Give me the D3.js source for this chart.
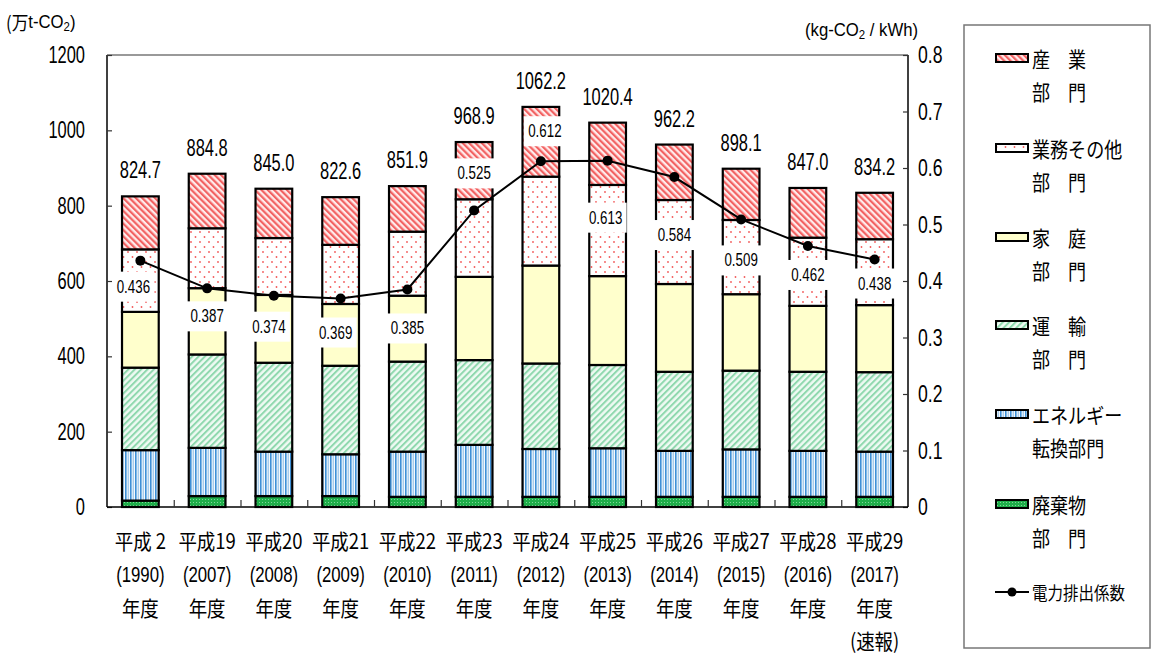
<!DOCTYPE html>
<html>
<head>
<meta charset="utf-8">
<script src="https://cdn.jsdelivr.net/npm/d3@7"></script>
<style>
  body { margin: 0; background: #fff; }
  svg { display: block; }
  text { font-family: "Liberation Sans", "Noto Sans CJK JP", sans-serif; fill: #000; }
  .jp { font-family: "Noto Sans CJK JP", "Liberation Sans", sans-serif; }
</style>
</head>
<body>
<div id="chart"></div>
<script>
// data (万t-CO2, stacked bottom -> top)
var line1 = ["平成 2", "平成19", "平成20", "平成21", "平成22", "平成23", "平成24", "平成25", "平成26", "平成27", "平成28", "平成29"];
var line2 = ["(1990)", "(2007)", "(2008)", "(2009)", "(2010)", "(2011)", "(2012)", "(2013)", "(2014)", "(2015)", "(2016)", "(2017)"];
var line3 = ["年度", "年度", "年度", "年度", "年度", "年度", "年度", "年度", "年度", "年度", "年度", "年度"];
var line4 = ["", "", "", "", "", "", "", "", "", "", "", "(速報)"];

var waste      = [17, 29, 29, 29, 27, 27, 27, 27, 27, 27, 27, 27];
var energy     = [134, 128, 118, 111, 120, 138, 127, 129, 122, 126, 122, 120];
var transport  = [219, 248, 236, 235, 239, 225, 227, 221, 210, 209, 210, 211];
var household  = [148, 176, 180, 164, 175, 221, 260, 236, 233, 203, 175, 178];
var commercial = [166, 159, 151, 157, 170, 206, 236, 242, 223, 197, 181, 175];
var industry   = [140.7, 144.8, 131, 126.6, 120.9, 151.9, 185.2, 165.4, 147.2, 136.1, 132, 123.2];
var totals     = ["824.7", "884.8", "845.0", "822.6", "851.9", "968.9", "1062.2", "1020.4", "962.2", "898.1", "847.0", "834.2"];
var coef       = [0.436, 0.387, 0.374, 0.369, 0.385, 0.525, 0.612, 0.613, 0.584, 0.509, 0.462, 0.438];

var leftTicks = [0, 200, 400, 600, 800, 1000, 1200];
var rightTicks = [0, 0.1, 0.2, 0.3, 0.4, 0.5, 0.6, 0.7, 0.8];

// where the coefficient labels sit relative to their dots (px)
var coefDy = [26, 28, 31, 34, 39, -37, -30, 57, 58, 41, 29, 24];
var coefDx = [-7, 0, -5, -5, 0, 0, 4, -2, 0, 0, 0, 0];

var keys = ["waste", "energy", "transport", "household", "commercial", "industry"];
var rows = line2.map(function(d, i) {
    return { i: i, waste: waste[i], energy: energy[i], transport: transport[i],
             household: household[i], commercial: commercial[i], industry: industry[i] };
});

var W = 1157, H = 655;
var plot = { left: 107, right: 908, top: 55, bottom: 507 };

var svg = d3.select("#chart").append("svg").attr("width", W).attr("height", H);

// squeeze text horizontally, the source font is tall and narrow
function squeeze(sel, k) {
    sel.each(function() {
        var w = this.getComputedTextLength();
        d3.select(this).attr("textLength", w * k).attr("lengthAdjust", "spacingAndGlyphs");
    });
}

// patterns
var defs = svg.append("defs");

var pInd = defs.append("pattern").attr("id", "pInd").attr("patternUnits", "userSpaceOnUse")
    .attr("width", 4.5).attr("height", 4.5).attr("patternTransform", "rotate(-45)");
pInd.append("rect").attr("width", 4.5).attr("height", 4.5).attr("fill", "#ffeaea");
pInd.append("rect").attr("width", 2.2).attr("height", 4.5).attr("fill", "#f26262");

var pCom = defs.append("pattern").attr("id", "pCom").attr("patternUnits", "userSpaceOnUse")
    .attr("width", 9).attr("height", 10);
pCom.append("rect").attr("width", 9).attr("height", 10).attr("fill", "#fff");
pCom.append("circle").attr("cx", 2).attr("cy", 2).attr("r", 0.9).attr("fill", "#f25a5a");
pCom.append("circle").attr("cx", 6.5).attr("cy", 7).attr("r", 0.9).attr("fill", "#f25a5a");

var pTra = defs.append("pattern").attr("id", "pTra").attr("patternUnits", "userSpaceOnUse")
    .attr("width", 4.5).attr("height", 4.5).attr("patternTransform", "rotate(45)");
pTra.append("rect").attr("width", 4.5).attr("height", 4.5).attr("fill", "#effaf3");
pTra.append("rect").attr("width", 2).attr("height", 4.5).attr("fill", "#8fd8ae");

var pEne = defs.append("pattern").attr("id", "pEne").attr("patternUnits", "userSpaceOnUse")
    .attr("width", 5).attr("height", 5);
pEne.append("rect").attr("width", 5).attr("height", 5).attr("fill", "#f4f9fd");
pEne.append("rect").attr("x", 0).attr("width", 1.6).attr("height", 5).attr("fill", "#3d8fd6");
pEne.append("rect").attr("x", 2.6).attr("width", 1.4).attr("height", 5).attr("fill", "#a8cdec");

var pWas = defs.append("pattern").attr("id", "pWas").attr("patternUnits", "userSpaceOnUse")
    .attr("width", 3).attr("height", 3);
pWas.append("rect").attr("width", 3).attr("height", 3).attr("fill", "#1fae4a");
pWas.append("rect").attr("x", 1).attr("y", 1).attr("width", 1).attr("height", 1).attr("fill", "#7fd79a");

var fills = { waste: "url(#pWas)", energy: "url(#pEne)", transport: "url(#pTra)",
              household: "#ffffcc", commercial: "url(#pCom)", industry: "url(#pInd)" };

// scales
var x = d3.scaleBand().domain(d3.range(12)).range([plot.left, plot.right])
    .paddingInner(0.45).paddingOuter(0.225);
var y = d3.scaleLinear().domain([0, 1200]).range([plot.bottom, plot.top]);
var y2 = d3.scaleLinear().domain([0, 0.8]).range([plot.bottom, plot.top]);

// frame
svg.append("line").attr("x1", plot.left).attr("x2", plot.right).attr("y1", plot.top).attr("y2", plot.top)
    .attr("stroke", "#777").attr("stroke-width", 1.5);

// stacked bars
var stack = d3.stack().keys(keys)(rows);
svg.append("g").selectAll("g").data(stack).enter().append("g")
    .attr("fill", function(d) { return fills[d.key]; })
    .selectAll("rect").data(function(d) { return d; }).enter().append("rect")
    .attr("x", function(d) { return x(d.data.i); })
    .attr("width", x.bandwidth())
    .attr("y", function(d) { return y(d[1]); })
    .attr("height", function(d) { return y(d[0]) - y(d[1]); })
    .attr("stroke", "#000").attr("stroke-width", 2.2);

// axes
var gl = svg.append("g").attr("transform", "translate(" + plot.left + ",0)")
    .call(d3.axisRight(y).tickValues(leftTicks).tickSize(5).tickFormat(""));
var gr = svg.append("g").attr("transform", "translate(" + plot.right + ",0)")
    .call(d3.axisLeft(y2).tickValues(rightTicks).tickSize(5).tickFormat(""));
var bounds = d3.range(13).map(function(i) { return plot.left + i * x.step(); });
var gb = svg.append("g").attr("transform", "translate(0," + plot.bottom + ")")
    .call(d3.axisTop(d3.scaleLinear().domain([plot.left, plot.right]).range([plot.left, plot.right]))
        .tickValues(bounds.slice(1, 12)).tickSize(7).tickFormat(""));
[gl, gr, gb].forEach(function(g) {
    g.select(".domain").attr("stroke", "#000").attr("stroke-width", 1.5);
    g.selectAll(".tick line").attr("stroke", "#333").attr("stroke-width", 1.2);
});
gl.select(".domain").attr("d", "M0," + plot.top + "V" + plot.bottom);
gr.select(".domain").attr("d", "M0," + plot.top + "V" + plot.bottom);
gb.select(".domain").attr("d", "M" + plot.left + ",0H" + plot.right);

svg.append("g").selectAll("text").data(leftTicks).enter().append("text")
    .attr("x", 85).attr("y", function(d) { return y(d); })
    .attr("text-anchor", "end").attr("dominant-baseline", "central")
    .style("font-size", "23.5px").text(function(d) { return d; })
    .call(squeeze, 0.7);

svg.append("g").selectAll("text").data(rightTicks).enter().append("text")
    .attr("x", 918).attr("y", function(d) { return y2(d); })
    .attr("dominant-baseline", "central")
    .style("font-size", "23.5px").text(function(d) { return d === 0 ? "0" : d3.format(".1f")(d); })
    .call(squeeze, 0.75);

// axis titles, narrowed with a horizontal scale
var g1 = svg.append("g").attr("transform", "translate(6,22) scale(0.88,1)");
var t1 = g1.append("text").attr("dominant-baseline", "central").style("font-size", "19px");
t1.append("tspan").attr("class", "jp").text("(万");
t1.append("tspan").text("t-CO");
t1.append("tspan").attr("dy", 5).style("font-size", "13px").text("2");
t1.append("tspan").attr("dy", -5).text(")");

var g2 = svg.append("g").attr("transform", "translate(805,30) scale(0.88,1)");
var t2 = g2.append("text").attr("dominant-baseline", "central").style("font-size", "19px");
t2.append("tspan").text("(kg-CO");
t2.append("tspan").attr("dy", 5).style("font-size", "13px").text("2");
t2.append("tspan").attr("dy", -5).text(" / kWh)");

// totals above bars
svg.append("g").selectAll("text").data(rows).enter().append("text")
    .attr("x", function(d) { return x(d.i) + x.bandwidth() / 2; })
    .attr("y", function(d) { return y(d3.sum(keys, function(k) { return d[k]; })) - 26; })
    .attr("text-anchor", "middle").attr("dominant-baseline", "central")
    .style("font-size", "23.5px").text(function(d) { return totals[d.i]; })
    .call(squeeze, 0.7);

// coefficient line
var cx = function(d, i) { return x(i) + x.bandwidth() / 2; };
svg.append("path").datum(coef)
    .attr("fill", "none").attr("stroke", "#000").attr("stroke-width", 2)
    .attr("d", d3.line().x(cx).y(function(d) { return y2(d); }));

// coefficient labels
var lab = svg.append("g").selectAll("g").data(coef).enter().append("g")
    .attr("transform", function(d, i) {
        return "translate(" + (cx(d, i) + coefDx[i]) + "," + (y2(d) + coefDy[i]) + ")";
    });
lab.append("rect").attr("x", -21).attr("y", -15).attr("width", 42).attr("height", 30).attr("fill", "#fff");
lab.append("text").attr("text-anchor", "middle").attr("dominant-baseline", "central")
    .style("font-size", "18px").text(function(d) { return d3.format(".3f")(d); })
    .call(squeeze, 0.74);

svg.append("g").selectAll("circle").data(coef).enter().append("circle")
    .attr("cx", cx).attr("cy", function(d) { return y2(d); }).attr("r", 5).attr("fill", "#000");

// x labels
[line1, line2, line3, line4].forEach(function(arr, j) {
    svg.append("g").selectAll("text").data(arr).enter().append("text")
        .attr("class", j === 1 ? "" : "jp")
        .attr("x", function(d, i) { return x(i) + x.bandwidth() / 2; })
        .attr("y", [540, 575, 607, 640][j])
        .attr("text-anchor", "middle").attr("dominant-baseline", "central")
        .style("font-size", j === 1 ? "21.5px" : "21px").text(function(d) { return d; })
        .call(squeeze, j === 1 ? 0.78 : 0.88);
});

// legend
svg.append("rect").attr("x", 964).attr("y", 25).attr("width", 186).attr("height", 623)
    .attr("fill", "#fff").attr("stroke", "#777").attr("stroke-width", 1.5);

var legendItems = [
    { key: "industry", a: "産　業", b: "部　門", y: 58 },
    { key: "commercial", a: "業務その他", b: "部　門", y: 148 },
    { key: "household", a: "家　庭", b: "部　門", y: 237 },
    { key: "transport", a: "運　輸", b: "部　門", y: 325 },
    { key: "energy", a: "エネルギー", b: "転換部門", y: 414 },
    { key: "waste", a: "廃棄物", b: "部　門", y: 504 }
];
var li = svg.append("g").selectAll("g").data(legendItems).enter().append("g");
li.append("rect").attr("x", 996).attr("y", function(d) { return d.y - 4; })
    .attr("width", 32).attr("height", 8).attr("fill", function(d) { return fills[d.key]; })
    .attr("stroke", "#000").attr("stroke-width", 2);
li.append("text").attr("class", "jp").attr("x", 1032).attr("y", function(d) { return d.y; })
    .attr("dominant-baseline", "central").style("font-size", "21px").text(function(d) { return d.a; })
    .call(squeeze, 0.86);
li.append("text").attr("class", "jp").attr("x", 1032).attr("y", function(d) { return d.y + 33; })
    .attr("dominant-baseline", "central").style("font-size", "21px").text(function(d) { return d.b; })
    .call(squeeze, 0.86);

svg.append("line").attr("x1", 995).attr("x2", 1029).attr("y1", 592).attr("y2", 592)
    .attr("stroke", "#000").attr("stroke-width", 2);
svg.append("circle").attr("cx", 1012).attr("cy", 592).attr("r", 4.5).attr("fill", "#000");
svg.append("text").attr("class", "jp").attr("x", 1032).attr("y", 592)
    .attr("dominant-baseline", "central").style("font-size", "18px").text("電力排出係数")
    .call(squeeze, 0.86);
</script>
</body>
</html>
